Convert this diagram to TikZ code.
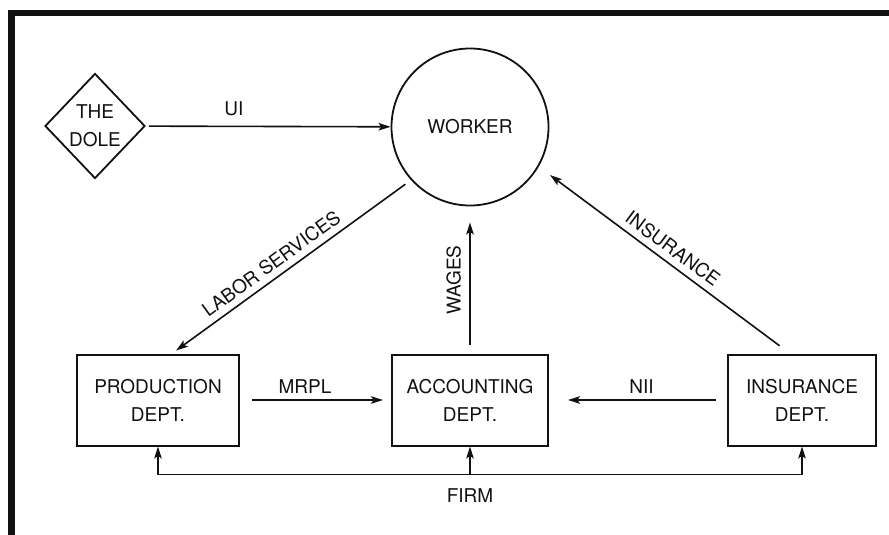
\documentclass[tikz,border=0pt]{standalone}
\usepackage{fontspec}
\setmainfont{TeX Gyre Heros}
\usetikzlibrary{positioning,arrows.meta,calc,shapes.geometric}
\definecolor{cInk}{HTML}{111111}
\tikzset{
  dg/box/.style  ={draw=cInk, line width=2pt, minimum height=91pt,
                   align=center, inner sep=2pt},
  dg/dole/.style ={draw=cInk, line width=1.8pt, diamond, minimum width=100pt,
                   minimum height=105pt, inner sep=0pt, align=center},
  dg/agent/.style={draw=cInk, line width=1.8pt, circle, minimum size=157pt},
  dg/flow/.style ={-{Stealth[length=12pt, width=7.5pt, inset=2.5pt]},
                   line width=1.6pt, cInk},
  dg/wire/.style ={line width=1.6pt, cInk},
  dg/frame/.style={fill=cInk}
}

\begin{document}
\begin{tikzpicture}[x=1pt, y=-1pt,
                    every node/.style={font=\fontsize{19}{28}\selectfont, text=cInk}]
    \useasboundingbox (0,0) rectangle (889,535);
    % frame, only top and left edges show
    \fill[dg/frame] (8,10) rectangle (889,16.5);
    \fill[dg/frame] (8,10) rectangle (15,535);

    % agents
    \node[dg/dole]  (dole)   at (95,126)  {THE\\DOLE};
    \node[dg/agent] (worker) at (470,127) {WORKER};

    % departments of the firm
    \node[dg/box, minimum width=162pt] (prod) at (158,400) {PRODUCTION\\DEPT.};
    \node[dg/box, minimum width=156pt] (acct) at (470,400) {ACCOUNTING\\DEPT.};
    \node[dg/box, minimum width=148pt] (ins)  at (802,400) {INSURANCE\\DEPT.};

    % flows
    \draw[dg/flow, shorten <=3pt] (dole) -- node[pos=0.36, above=6pt] {UI} (worker);
    \draw[dg/flow, shorten <=7pt, shorten >=5pt]
      (worker.222) -- node[pos=0.55, sloped, above=3pt] {LABOR SERVICES} ([xshift=14pt]prod.north);
    \draw[dg/flow, shorten <=9pt, shorten >=16pt]
      (acct.north) -- node[sloped, above=5pt] {WAGES} (worker.south);
    \draw[dg/flow, shorten <=13pt, shorten >=14pt]
      ([xshift=-12pt]ins.north) -- node[pos=0.5, sloped, above=3pt] {INSURANCE} (worker.330);
    \draw[dg/flow, shorten <=12pt, shorten >=8pt] (prod) -- node[pos=0.43, above=2pt] {MRPL} (acct);
    \draw[dg/flow, shorten <=11pt, shorten >=19pt] (ins) -- node[pos=0.48, above=2pt] {NII} (acct);

    % firm bracket
    \coordinate (firm) at ($(acct.south)+(0,28)$);
    \draw[dg/wire] (firm -| prod.south) -- (firm -| ins.south);
    \foreach \d in {prod,acct,ins}
      \draw[dg/flow] (firm -| \d.south) -- (\d.south);
    \node[below=11pt] (firmlbl) at (firm) {FIRM};
\end{tikzpicture}
\end{document}
